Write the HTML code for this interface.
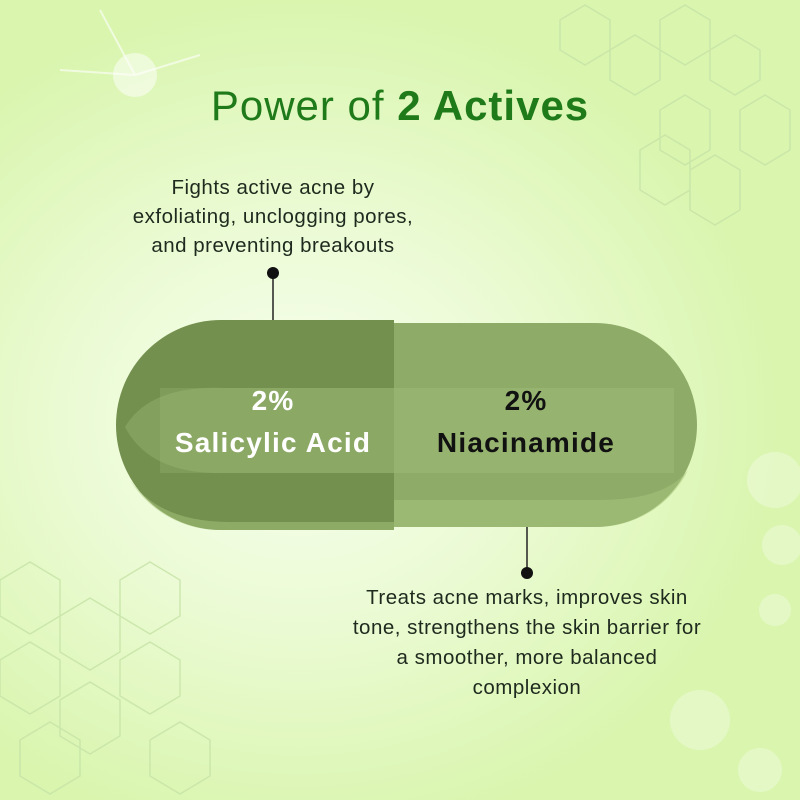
<!DOCTYPE html>
<html><head><meta charset="utf-8"><style>
body{margin:0}
#c{position:relative;width:800px;height:800px;overflow:hidden;font-family:"Liberation Sans",sans-serif;
background:radial-gradient(ellipse 480px 420px at 300px 420px,#f8fff0 0%,#ecfbd6 45%,#d9f5ae 100%);}
.t{position:absolute;text-align:center;color:#1e2a1e;font-size:20.5px;line-height:29px;letter-spacing:0.5px;white-space:nowrap}
h1{position:absolute;top:82px;left:0;width:800px;text-align:center;margin:0;font-weight:normal;font-size:42px;letter-spacing:1px;color:#1f7a1a;}
.lbl{position:absolute;text-align:center;font-weight:bold;font-size:28px;line-height:42px;letter-spacing:1.2px}
</style></head><body><div id="c">
<svg width="800" height="800" style="position:absolute;left:0;top:0">
<g stroke="#c6e2a6" stroke-width="1.5" fill="none" opacity=".8">
<path d="M560 20l25-15 25 15v30l-25 15-25-15z M610 50l25-15 25 15v30l-25 15-25-15z M660 20l25-15 25 15v30l-25 15-25-15z M710 50l25-15 25 15v30l-25 15-25-15z M660 110l25-15 25 15v40l-25 15-25-15z M690 170l25-15 25 15v40l-25 15-25-15z M740 110l25-15 25 15v40l-25 15-25-15z M640 150l25-15 25 15v40l-25 15-25-15z"/>
<path d="M0 580l30-18 30 18v36l-30 18-30-18z M60 616l30-18 30 18v36l-30 18-30-18z M120 580l30-18 30 18v36l-30 18-30-18z M0 660l30-18 30 18v36l-30 18-30-18z M60 700l30-18 30 18v36l-30 18-30-18z M120 660l30-18 30 18v36l-30 18-30-18z M20 740l30-18 30 18v36l-30 18-30-18z M150 740l30-18 30 18v36l-30 18-30-18z"/>
</g>
<g fill="#fff" opacity=".3"><circle cx="775" cy="480" r="28"/><circle cx="782" cy="545" r="20"/><circle cx="775" cy="610" r="16"/><circle cx="700" cy="720" r="30"/><circle cx="760" cy="770" r="22"/></g>
<circle cx="135" cy="75" r="22" fill="#fff" opacity=".5"/>
<g stroke="#fff" stroke-width="2" opacity=".6"><line x1="135" y1="75" x2="100" y2="10"/><line x1="135" y1="75" x2="60" y2="70"/><line x1="135" y1="75" x2="200" y2="55"/></g>
<line x1="273" y1="273" x2="273" y2="322" stroke="#222" stroke-width="1.5"/>
<circle cx="273" cy="273" r="6" fill="#111"/>
<line x1="527" y1="525" x2="527" y2="573" stroke="#222" stroke-width="1.5"/>
<circle cx="527" cy="573" r="6" fill="#111"/>
<path d="M394 323 H595 A102 102 0 0 1 595 527 H394 Z" fill="#8eac68"/>
<path d="M394 320 H221 A105 105 0 0 0 221 530 H394 Z" fill="#74904f"/>
<rect x="160" y="388" width="234" height="85" fill="#8aa766" opacity=".5"/>
<rect x="394" y="388" width="280" height="85" fill="#9dbb76" opacity=".5"/>
<path d="M125 427 Q150 385 225 388 H394 V473 H225 Q150 475 125 427Z" fill="#a2c07a" opacity=".35"/>
<path d="M130 480 Q160 522 230 522 H394 V530 H221 A105 105 0 0 1 130 480Z" fill="#a7c67c" opacity=".5"/>
<path d="M394 500 H600 Q665 500 688 470 A102 102 0 0 1 595 527 H394Z" fill="#a6c47a" opacity=".55"/>
</svg>
<h1>Power of <b>2 Actives</b></h1>
<div class="t" style="left:80px;top:173px;width:386px">Fights active acne by<br>exfoliating, unclogging pores,<br>and preventing breakouts</div>
<div class="t" style="left:310px;top:583px;width:434px;line-height:30px">Treats acne marks, improves skin<br>tone, strengthens the skin barrier for<br>a smoother, more balanced<br>complexion</div>
<div class="lbl" style="left:140px;top:380px;width:266px;color:#fff">2%<br>Salicylic Acid</div>
<div class="lbl" style="left:394px;top:380px;width:264px;color:#111">2%<br>Niacinamide</div>
</div></body></html>
